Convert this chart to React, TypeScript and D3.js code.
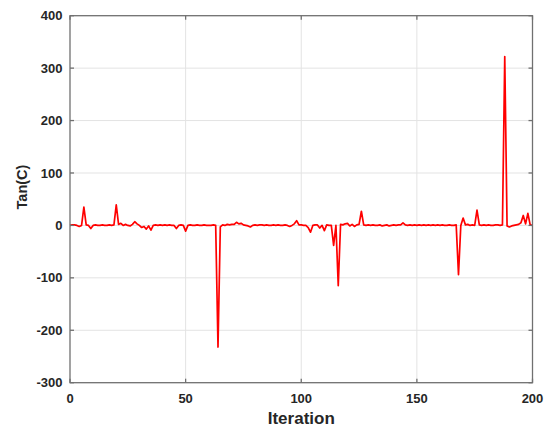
import React, { useEffect, useRef } from "react";
import * as d3 from "d3";

const iterations: number[] = d3.range(0, 201);
const tanValues: number[] = [
  0, 1, 1, 0, -2, 0, 35, 1, 0, -6,
  0, 1, 0, 0, 1, 0, 0, 1, 0, 1,
  39, 2, 4, 0, 2, 0, -1, 2, 7, 3,
  0, -4, -2, -7, -1, -9, 0, 1, 0, 1,
  0, 1, 0, 1, 0, 0, -6, 0, 1, 0,
  -11, 0, 1, 0, 0, 1, 0, 0, 1, 0,
  0, 0, 1, 0, -232, -3, 1, 0, 2, 1,
  2, 2, 6, 3, 4, 1, 0, -1, -3, 0,
  1, 0, 1, 1, 0, 1, 0, 0, 1, 0,
  1, 0, 0, 1, 0, -2, 0, 3, 9, 1,
  1, 0, 0, -4, -13, 0, 1, 1, -5, 0,
  -10, 1, 0, 0, -38, 0, -115, 2, 1, 3,
  4, -1, 2, -2, 1, 2, 27, 1, 0, 1,
  0, 1, 0, 0, 1, -1, 0, 1, -1, 0,
  1, 0, 1, 1, 5, 1, 0, 1, 0, 1,
  0, 1, 0, 1, 0, 1, 0, 1, 0, 1,
  0, 1, 0, 0, 1, 0, 0, 1, -94, 0,
  14, 1, 2, 0, 1, 0, 29, 1, 0, 1,
  0, 1, 0, 0, 1, 1, 0, 1, 322, -1,
  -3, -1, 0, 1, 2, 5, 19, 3, 23, 1,
  0,
];
const xTicks: number[] = [0, 50, 100, 150, 200];
const yTicks: number[] = [-300, -200, -100, 0, 100, 200, 300, 400];
const xLabel = "Iteration";
const yLabel = "Tan(C)";

const W = 545;
const H = 432;
const M = { left: 70, right: 532.5, top: 15.7, bottom: 382.7 };
const FONT = "'Liberation Sans', Arial, sans-serif";

export default function App() {
  const ref = useRef<SVGSVGElement | null>(null);

  useEffect(() => {
    document.body.style.margin = "0";
    const svg = d3.select(ref.current);
    svg.selectAll("*").remove();

    const x = d3.scaleLinear().domain([0, 200]).range([M.left, M.right]);
    const y = d3.scaleLinear().domain([-300, 400]).range([M.bottom, M.top]);

    svg.append("rect").attr("width", W).attr("height", H).attr("fill", "#fff");

    const grid = svg.append("g").attr("stroke", "#e3e3e3").attr("stroke-width", 1);
    xTicks.slice(1, -1).forEach((t) => {
      grid.append("line").attr("x1", x(t)).attr("x2", x(t)).attr("y1", M.top).attr("y2", M.bottom);
    });
    yTicks.slice(1, -1).forEach((t) => {
      grid.append("line").attr("x1", M.left).attr("x2", M.right).attr("y1", y(t)).attr("y2", y(t));
    });

    const line = d3
      .line<number>()
      .x((_, i) => x(iterations[i]))
      .y((d) => y(d));
    svg
      .append("path")
      .datum(tanValues)
      .attr("d", line)
      .attr("fill", "none")
      .attr("stroke", "#ff0000")
      .attr("stroke-width", 1.7)
      .attr("stroke-linejoin", "round");

    const axisColor = "#707070";
    const ax = svg.append("g").attr("stroke", axisColor).attr("stroke-width", 1.3);
    ax.append("rect")
      .attr("x", M.left)
      .attr("y", M.top)
      .attr("width", M.right - M.left)
      .attr("height", M.bottom - M.top)
      .attr("fill", "none");
    const tl = 4;
    xTicks.forEach((t) => {
      ax.append("line").attr("x1", x(t)).attr("x2", x(t)).attr("y1", M.bottom).attr("y2", M.bottom - tl);
      ax.append("line").attr("x1", x(t)).attr("x2", x(t)).attr("y1", M.top).attr("y2", M.top + tl);
    });
    yTicks.forEach((t) => {
      ax.append("line").attr("x1", M.left).attr("x2", M.left + tl).attr("y1", y(t)).attr("y2", y(t));
      ax.append("line").attr("x1", M.right).attr("x2", M.right - tl).attr("y1", y(t)).attr("y2", y(t));
    });

    const txt = svg
      .append("g")
      .attr("font-family", FONT)
      .attr("font-weight", "bold")
      .attr("fill", "#262626");
    xTicks.forEach((t) => {
      txt.append("text")
        .attr("x", x(t))
        .attr("y", M.bottom + 20.5)
        .attr("text-anchor", "middle")
        .attr("font-size", 13)
        .text(String(t));
    });
    yTicks.forEach((t) => {
      txt.append("text")
        .attr("x", M.left - 7.5)
        .attr("y", y(t))
        .attr("dy", "0.35em")
        .attr("text-anchor", "end")
        .attr("font-size", 13)
        .text(String(t));
    });
    txt.append("text")
      .attr("x", (M.left + M.right) / 2)
      .attr("y", 424)
      .attr("text-anchor", "middle")
      .attr("font-size", 17)
      .text(xLabel);
    txt.append("text")
      .attr("transform", `translate(26.5, 187) rotate(-90)`)
      .attr("text-anchor", "middle")
      .attr("font-size", 14.5)
      .text(yLabel);
  }, []);

  return (
    <svg
      ref={ref}
      width={W}
      height={H}
      style={{ position: "absolute", left: 0, top: 0, display: "block" }}
    />
  );
}
